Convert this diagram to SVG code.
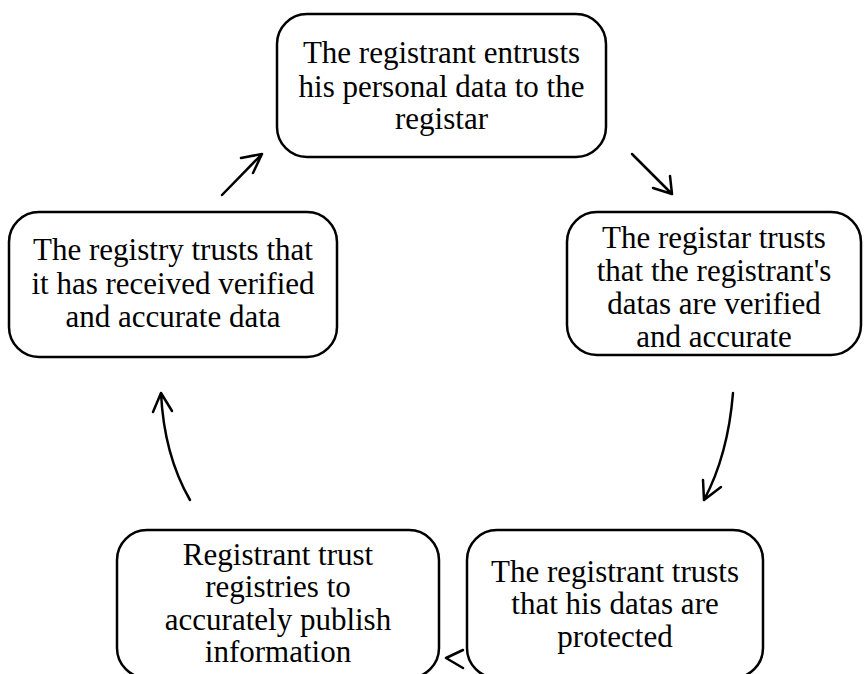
<svg xmlns="http://www.w3.org/2000/svg" width="865" height="674" viewBox="0 0 865 674">
  <style>
    .box { fill: #ffffff; stroke: #000000; stroke-width: 2.5; }
    .label { font-family: "Liberation Serif", "Times New Roman", serif; font-size: 31px; fill: #000000; text-anchor: middle; }
    .conn { fill: none; stroke: #000000; stroke-width: 2.5; stroke-linecap: round; stroke-linejoin: round; }
  </style>
  <rect width="865" height="674" fill="#ffffff"/>

  <g id="node-entrusts">
    <rect class="box" x="277" y="14" width="329" height="143" rx="30"/>
    <text class="label" x="441.5" y="63">The registrant entrusts</text>
    <text class="label" x="441.5" y="97">his personal data to the</text>
    <text class="label" x="441.5" y="129">registar</text>
  </g>

  <g id="node-registar">
    <rect class="box" x="567" y="212" width="294" height="143" rx="30"/>
    <text class="label" x="714" y="248">The registar trusts</text>
    <text class="label" x="714" y="281">that the registrant's</text>
    <text class="label" x="714" y="314">datas are verified</text>
    <text class="label" x="714" y="347">and accurate</text>
  </g>

  <g id="node-protected">
    <rect class="box" x="467" y="530" width="296" height="148" rx="30"/>
    <text class="label" x="615" y="582">The registrant trusts</text>
    <text class="label" x="615" y="614">that his datas are</text>
    <text class="label" x="615" y="647">protected</text>
  </g>

  <g id="node-publish">
    <rect class="box" x="117" y="530" width="322" height="148" rx="30"/>
    <text class="label" x="278" y="565">Registrant trust</text>
    <text class="label" x="278" y="597">registries to</text>
    <text class="label" x="278" y="630">accurately publish</text>
    <text class="label" x="278" y="662">information</text>
  </g>

  <g id="node-registry">
    <rect class="box" x="9" y="212" width="328" height="145" rx="30"/>
    <text class="label" x="173" y="260">The registry trusts that</text>
    <text class="label" x="173" y="294">it has received verified</text>
    <text class="label" x="173" y="327">and accurate data</text>
  </g>

  <g id="connectors">
    <!-- entrusts -> registar -->
    <path class="conn" d="M632,154 L672,194 M653,188 L672,194 L670,176"/>
    <!-- registar -> protected -->
    <path class="conn" d="M733,393 Q728,455 704,500 M703,480 L704,500 L721,487"/>
    <!-- protected -> publish -->
    <path class="conn" d="M463,650 L446,658 L463,668"/>
    <!-- publish -> registry -->
    <path class="conn" d="M190,500 Q164,455 161,393 M153,412 L161,393 L172,411"/>
    <!-- registry -> entrusts -->
    <path class="conn" d="M222,195 L262,154 M241,158 L262,154 L253,173"/>
  </g>
</svg>
